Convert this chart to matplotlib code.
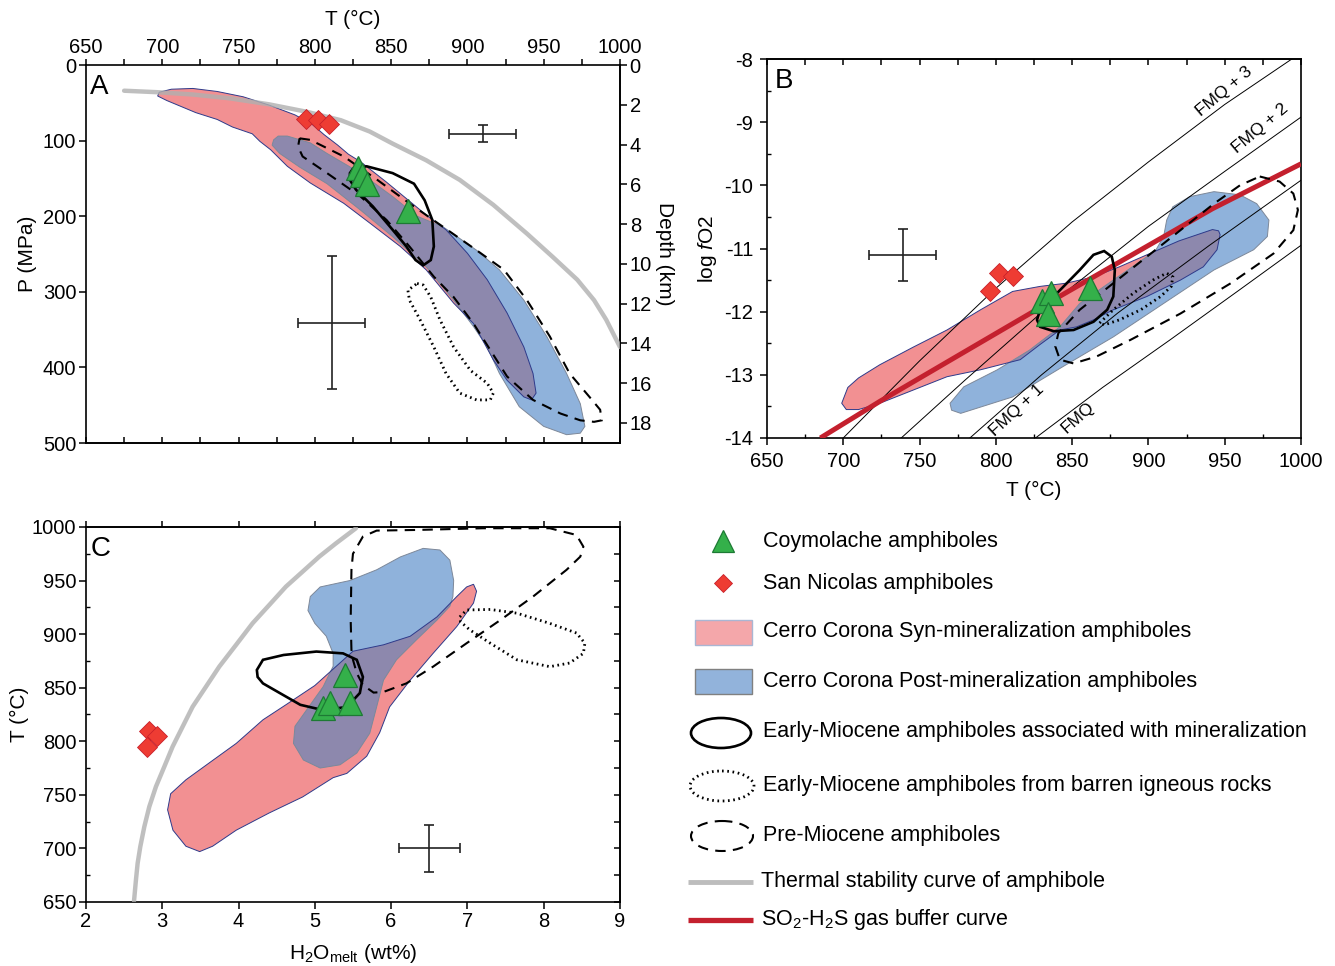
import numpy as np
import matplotlib
matplotlib.use('Agg')
import matplotlib.pyplot as plt
from matplotlib.patches import Ellipse, Rectangle
from matplotlib.ticker import MultipleLocator

plt.rcParams['font.family'] = ['Liberation Sans', 'DejaVu Sans']
plt.rcParams['mathtext.fontset'] = 'custom'
plt.rcParams['mathtext.rm'] = 'Liberation Sans'
plt.rcParams['mathtext.it'] = 'Liberation Sans:italic'
plt.rcParams['axes.unicode_minus'] = False
plt.rcParams['axes.linewidth'] = 1.2

# ---------------- panel A : T - P ----------------
A_syn_T = [698, 706, 720, 736, 753, 770, 787, 798, 806, 815, 822, 830, 847, 862, 874, 886, 900, 913,
           926, 937, 943, 945, 942, 937, 926, 917, 910, 904, 891, 873, 856, 836, 819, 797, 782, 771,
           764, 759, 746, 736, 722, 703, 697]
A_syn_P = [36, 32, 31, 35, 42, 53, 66, 78, 92, 106, 118, 128, 155, 180, 200, 218, 249, 284,
           328, 373, 408, 434, 443, 439, 417, 390, 364, 342, 315, 271, 240, 209, 183, 156, 134, 112,
           101, 91, 82, 72, 63, 47, 41]
A_post_T = [773, 776, 782, 797, 808, 830, 851, 867, 884, 906, 921, 937, 952, 965, 974, 977, 974, 965,
            950, 934, 921, 913, 904, 891, 873, 851, 830, 808, 790, 777, 772]
A_post_P = [99, 94, 94, 103, 117, 143, 174, 200, 214, 245, 271, 311, 359, 408, 448, 478, 487, 489,
            478, 452, 408, 373, 346, 311, 267, 227, 192, 157, 135, 117, 106]
A_min_T = [823, 825, 834, 851, 865, 872, 877, 878, 876, 871, 866, 860, 851, 838, 827, 823]
A_min_P = [143, 137, 134, 143, 157, 179, 205, 240, 258, 265, 258, 240, 218, 187, 165, 152]
A_pre_T = [790, 797, 819, 841, 862, 884, 906, 924, 939, 954, 967, 980, 987, 988, 983, 974, 961, 943,
           926, 915, 904, 891, 878, 862, 847, 830, 808, 792, 789]
A_pre_P = [97, 99, 121, 152, 183, 214, 245, 271, 311, 359, 408, 439, 456, 470, 472, 470, 461, 443,
           412, 377, 342, 307, 280, 240, 205, 174, 143, 121, 108]
A_bar_T = [867, 871, 876, 882, 891, 902, 913, 917, 915, 906, 895, 886, 878, 869, 862, 861]
A_bar_P = [289, 291, 307, 337, 373, 404, 421, 434, 443, 443, 434, 408, 373, 337, 311, 298]
A_stab_T = [675, 697, 720, 744, 770, 795, 817, 836, 851, 873, 895, 917, 939, 956, 972, 983, 991, 1000]
A_stab_P = [34, 36, 39, 44, 52, 62, 73, 88, 104, 126, 152, 185, 223, 254, 284, 311, 337, 373]
A_sn_T = [794, 802, 809]
A_sn_P = [71, 73, 78]
A_coy_T = [828, 831, 834, 861]
A_coy_P = [136, 145, 157, 193]
A_err_T = [910, 811]
A_err_P = [91, 341]
A_err_dT = [22, 22]
A_err_dP = [11, 88]

# ---------------- panel B : T - log fO2 ----------------
B_syn_T = [699, 703, 710, 724, 746, 768, 790, 811, 829, 846, 864, 881, 899, 920, 942, 946, 947, 945,
           936, 921, 899, 877, 864, 853, 842, 829, 816, 790, 768, 746, 724, 710, 702]
B_syn_f = [-13.45, -13.2, -13.05, -12.84, -12.56, -12.29, -11.97, -11.68, -11.60, -11.55, -11.45,
           -11.29, -11.10, -10.88, -10.70, -10.72, -10.78, -11.02, -11.29, -11.50, -11.76, -11.97,
           -12.13, -12.24, -12.29, -12.52, -12.76, -12.92, -13.03, -13.24, -13.45, -13.55, -13.55]
B_post_T = [770, 771, 777, 811, 844, 877, 910, 943, 969, 978, 979, 971, 960, 943, 927, 916, 912, 910,
            905, 899, 877, 855, 842, 822, 801, 779]
B_post_f = [-13.45, -13.56, -13.61, -13.35, -12.87, -12.40, -11.87, -11.34, -11.02, -10.81, -10.55,
            -10.29, -10.15, -10.10, -10.18, -10.34, -10.55, -10.81, -11.02, -11.13, -11.50, -11.87,
            -12.24, -12.61, -12.92, -13.19]
B_min_T = [827, 829, 840, 855, 864, 871, 876, 878, 877, 873, 864, 851, 838, 829]
B_min_f = [-12.13, -11.97, -11.71, -11.34, -11.10, -11.04, -11.13, -11.34, -11.76, -11.97, -12.16,
           -12.29, -12.31, -12.24]
B_pre_T = [973, 986, 995, 998, 995, 982, 954, 921, 888, 866, 851, 842, 839, 841, 855, 877, 899, 921,
           943, 960]
B_pre_f = [-9.86, -9.94, -10.13, -10.39, -10.71, -11.08, -11.55, -12.03, -12.45, -12.71, -12.82,
           -12.76, -12.55, -12.34, -11.97, -11.55, -11.13, -10.71, -10.29, -10.0]
B_bar_T = [868, 877, 890, 903, 912, 916, 915, 908, 895, 881, 871]
B_bar_f = [-12.18, -11.97, -11.71, -11.50, -11.39, -11.45, -11.60, -11.76, -11.97, -12.13, -12.21]
fmq0_T = [826, 870, 914, 960, 1000]
fmq0_f = [-14.0, -13.2, -12.45, -11.65, -10.95]
fmq1_T = [783, 830, 880, 940, 1000]
fmq1_f = [-14.0, -13.0, -12.02, -10.95, -9.92]
fmq2_T = [738, 780, 840, 900, 950, 1000]
fmq2_f = [-14.0, -13.08, -11.8, -10.65, -9.78, -8.92]
fmq3_T = [700, 750, 800, 850, 900, 950, 994]
fmq3_f = [-14.0, -12.78, -11.63, -10.58, -9.63, -8.72, -8.0]
so2_T = [685, 724, 833, 942, 1000]
so2_f = [-14.0, -13.42, -11.88, -10.37, -9.66]
B_sn_T = [796, 802, 811]
B_sn_f = [-11.67, -11.39, -11.44]
B_coy_T = [830, 836, 834, 862]
B_coy_f = [-11.83, -11.71, -12.03, -11.63]
B_err_T, B_err_f, B_err_dT, B_err_df = [739], [-11.1], [22], [0.41]

# ---------------- panel C : H2O - T ----------------
C_syn_H = [3.07, 3.11, 3.31, 3.62, 3.97, 4.32, 4.62, 5.00, 5.25, 5.50, 5.90, 6.25, 6.60, 6.86, 6.99,
           7.08, 7.12, 7.08, 6.86, 6.55, 6.25, 5.98, 5.85, 5.68, 5.42, 5.24, 4.84, 4.40, 3.97, 3.66,
           3.49, 3.31, 3.14]
C_syn_T = [736, 751, 764, 780, 798, 820, 834, 852, 868, 884, 890, 898, 916, 935, 944,
           946.5, 940, 929, 907, 882, 857, 832, 808, 786, 770, 766, 748, 733, 717, 702,
           697, 702, 717]
C_post_H = [4.91, 4.94, 5.07, 5.46, 5.81, 6.12, 6.42, 6.64, 6.77, 6.82, 6.81, 6.77, 6.60, 6.33, 6.07,
            5.90, 5.81, 5.72, 5.55, 5.33, 5.07, 4.85, 4.72, 4.74, 4.89, 5.11, 5.24, 5.24, 5.15, 5.00]
C_post_T = [922, 935, 944, 950, 960, 972, 980, 978.5, 969, 950, 935, 926, 913, 894.5, 876,
            857, 832, 807.5, 789, 778, 775, 782.5, 798, 814, 829, 851, 870, 882, 898, 910]
C_min_H = [4.24, 4.32, 4.59, 5.02, 5.37, 5.55, 5.63, 5.59, 5.42, 5.11, 4.81, 4.54, 4.32, 4.25]
C_min_T = [866.5, 876, 880.5, 883.7, 882, 876, 860, 845, 832, 829, 834, 845, 854, 860]
C_pre_H = [5.48, 5.47, 5.48, 5.50, 5.63, 5.81, 6.33, 7.21, 8.08, 8.43, 8.52, 8.48, 8.30, 7.86, 7.43,
           6.99, 6.55, 6.20, 5.90, 5.77, 5.63, 5.55, 5.50]
C_pre_T = [885, 913, 960, 975, 991, 996.6, 997.2, 998.8, 998.8, 992.5, 981.6, 972.3, 960, 935, 913,
           891.5, 869.6, 854, 846, 845.4, 852.5, 863.5, 876]
C_bar_H = [6.90, 6.99, 7.30, 7.65, 8.08, 8.43, 8.54, 8.52, 8.34, 8.08, 7.65, 7.30, 7.03, 6.91]
C_bar_T = [916, 922.5, 923, 919.5, 910, 901, 891.5, 882, 873, 869.6, 876, 891.5, 904, 911.6]
C_stab_H = [2.63, 2.655, 2.677, 2.712, 2.765, 2.83, 2.917, 3.027, 3.136, 3.267, 3.398, 3.573, 3.747,
            3.966, 4.184, 4.403, 4.621, 4.84, 5.058, 5.277, 5.539]
C_stab_T = [651, 670.5, 686, 701.6, 720.3, 738.9, 757.6, 776.3, 795, 813.6, 832.2, 850.9, 869.6,
            889.8, 910.1, 927.2, 944.3, 958.3, 972.3, 984.7, 998.8]
C_sn_H = [2.83, 2.93, 2.80]
C_sn_T = [810, 805, 795]
C_coy_H = [5.39, 5.11, 5.20, 5.46]
C_coy_T = [862, 831, 836, 835.5]
C_err_H, C_err_T, C_err_dH, C_err_dT = [6.5], [700], [0.4], [22]

# ---------------- styles ----------------
PINK = '#F29092'
BLUE = '#8FB2DB'
PURPLE = '#8D88AD'
PINK_EDGE = '#2E3A8A'
BLUE_EDGE = '#7D8899'
GRAY = '#B0B0B0'
RED_LINE = '#C4202E'
DIA_FC, DIA_EC = '#EE3C33', '#C8202A'
TRI_FC, TRI_EC = '#34B04A', '#1D7A34'
FS = 14.5
DOTS = (0, (0.6, 1.3))
DASH = (0, (5, 3.5))


def fields(ax, sx, sy, px, py):
    ax.fill(sx, sy, fc=PINK, ec='none', zorder=1)
    blue = ax.fill(px, py, fc=BLUE, ec='none', zorder=1.1)[0]
    ov = ax.fill(sx, sy, fc=PURPLE, ec='none', zorder=1.2)[0]
    ov.set_clip_path(blue)
    ax.fill(px, py, fc='none', ec=BLUE_EDGE, lw=0.7, zorder=1.3)
    ax.fill(sx, sy, fc='none', ec=PINK_EDGE, lw=0.7, zorder=1.4)


def contours(ax, mx, my, bx, by, ex, ey):
    ax.fill(mx, my, fc='none', ec='black', lw=1.9, zorder=4)
    ax.fill(bx, by, fc='none', ec='black', lw=2.0, ls=DOTS, zorder=4)
    ax.fill(ex, ey, fc='none', ec='black', lw=1.5, ls=DASH, zorder=4)


def points(ax, sx, sy, cx, cy):
    ax.plot(sx, sy, 'D', ms=10, mfc=DIA_FC, mec=DIA_EC, mew=0.6, zorder=6)
    ax.plot(cx, cy, '^', ms=17, mfc=TRI_FC, mec=TRI_EC, mew=0.9, zorder=6)


def errs(ax, x, y, dx, dy):
    ax.errorbar(x, y, xerr=dx, yerr=dy, fmt='none', ecolor='#222222', elinewidth=1.2,
                capsize=3.5, capthick=1.2, zorder=5)


fig = plt.figure(figsize=(13.35, 9.66), dpi=100)

# ---------- A ----------
axA = fig.add_axes([0.0644, 0.5414, 0.400, 0.3913])
fields(axA, A_syn_T, A_syn_P, A_post_T, A_post_P)
contours(axA, A_min_T, A_min_P, A_bar_T, A_bar_P, A_pre_T, A_pre_P)
axA.plot(A_stab_T, A_stab_P, color=GRAY, lw=3.2, alpha=0.8, solid_capstyle='round',
         solid_joinstyle='round', zorder=3)
points(axA, A_sn_T, A_sn_P, A_coy_T, A_coy_P)
errs(axA, A_err_T, A_err_P, A_err_dT, A_err_dP)
axA.set_xlim(650, 1000)
axA.set_ylim(500, 0)
axA.xaxis.tick_top()
axA.xaxis.set_label_position('top')
axA.set_xticks(np.arange(650, 1001, 50))
axA.xaxis.set_minor_locator(MultipleLocator(25))
axA.tick_params(axis='x', which='both', direction='out', length=4, width=1.1,
                labelsize=FS, pad=2)
axA.set_yticks(np.arange(0, 501, 100))
axA.tick_params(axis='y', direction='out', length=5, width=1.1, labelsize=FS, pad=2)
botA = axA.secondary_xaxis('bottom')
botA.set_xticks(np.arange(650, 1001, 25))
botA.tick_params(direction='in', length=4, width=1.1, labelbottom=False)
depth = axA.secondary_yaxis('right', functions=(lambda p: p / 26.3, lambda d: d * 26.3))
depth.set_yticks(np.arange(0, 19, 2))
depth.tick_params(direction='out', length=5, width=1.1, labelsize=FS, pad=2)
depth.set_ylabel('Depth (km)', fontsize=FS + 0.5, rotation=270, labelpad=16)
axA.set_xlabel('T (°C)', fontsize=FS + 0.5, labelpad=9)
axA.set_ylabel('P (MPa)', fontsize=FS + 0.5, labelpad=4)
axA.text(0.008, 0.975, 'A', transform=axA.transAxes, fontsize=20, va='top', ha='left')

# ---------- B ----------
axB = fig.add_axes([0.5745, 0.5466, 0.400, 0.3923])
fields(axB, B_syn_T, B_syn_f, B_post_T, B_post_f)
for xs, ys in [(fmq0_T, fmq0_f), (fmq1_T, fmq1_f), (fmq2_T, fmq2_f), (fmq3_T, fmq3_f)]:
    axB.plot(xs, ys, color='black', lw=0.7, zorder=2)
axB.plot(so2_T, so2_f, color=RED_LINE, lw=3.6, solid_capstyle='butt', zorder=3)
contours(axB, B_min_T, B_min_f, B_bar_T, B_bar_f, B_pre_T, B_pre_f)
points(axB, B_sn_T, B_sn_f, B_coy_T, B_coy_f)
errs(axB, B_err_T, B_err_f, B_err_dT, B_err_df)
axB.text(950, -8.52, 'FMQ + 3', fontsize=12.5, rotation=40, ha='center', va='center')
axB.text(973, -9.1, 'FMQ + 2', fontsize=12.5, rotation=40, ha='center', va='center')
axB.text(814, -13.56, 'FMQ + 1', fontsize=12.5, rotation=43, ha='center', va='center')
axB.text(854, -13.68, 'FMQ', fontsize=12.5, rotation=42, ha='center', va='center')
axB.set_xlim(650, 1000)
axB.set_ylim(-14, -8)
axB.set_xticks(np.arange(650, 1001, 50))
axB.xaxis.set_minor_locator(MultipleLocator(25))
axB.set_yticks(np.arange(-14, -7.9, 1))
axB.yaxis.set_minor_locator(MultipleLocator(0.5))
axB.tick_params(which='major', direction='out', length=5, width=1.1, labelsize=FS, pad=5)
axB.tick_params(which='minor', direction='in', length=3, width=1.0)
topB = axB.secondary_xaxis('top')
topB.set_xticks(np.arange(650, 1001, 25))
topB.tick_params(direction='in', length=4, width=1.1, labeltop=False)
axB.set_xlabel('T (°C)', fontsize=FS + 0.5, labelpad=7)
axB.set_ylabel(r'log $\mathit{f}$O2', fontsize=FS + 0.5, labelpad=4)
axB.text(0.015, 0.975, 'B', transform=axB.transAxes, fontsize=20, va='top', ha='left')

# ---------- C ----------
axC = fig.add_axes([0.0644, 0.0663, 0.400, 0.3882])
fields(axC, C_syn_H, C_syn_T, C_post_H, C_post_T)
contours(axC, C_min_H, C_min_T, C_bar_H, C_bar_T, C_pre_H, C_pre_T)
axC.plot(C_stab_H, C_stab_T, color=GRAY, lw=3.2, alpha=0.8, solid_capstyle='round',
         solid_joinstyle='round', zorder=3)
points(axC, C_sn_H, C_sn_T, C_coy_H, C_coy_T)
errs(axC, C_err_H, C_err_T, C_err_dH, C_err_dT)
axC.set_xlim(2, 9)
axC.set_ylim(650, 1000)
axC.set_xticks(np.arange(2, 10, 1))
axC.set_yticks(np.arange(650, 1001, 50))
axC.yaxis.set_minor_locator(MultipleLocator(25))
axC.tick_params(which='major', direction='out', length=5, width=1.1, labelsize=FS, pad=2)
axC.tick_params(which='minor', direction='in', length=3, width=1.0)
topC = axC.secondary_xaxis('top')
topC.set_xticks(np.arange(2, 10, 1))
topC.tick_params(direction='out', length=4, width=1.1, labeltop=False)
rightC = axC.secondary_yaxis('right')
rightC.set_yticks(np.arange(650, 1001, 25))
rightC.tick_params(direction='in', length=4, width=1.1, labelright=False)
axC.set_xlabel(r'H$_2$O$_{\mathrm{melt}}$ (wt%)', fontsize=FS + 0.5, labelpad=8)
axC.set_ylabel('T (°C)', fontsize=FS + 0.5, labelpad=2)
axC.text(0.008, 0.975, 'C', transform=axC.transAxes, fontsize=20, va='top', ha='left')

# ---------- legend (drawn in figure pixels) ----------
lg = fig.add_axes([0, 0, 1, 1])
lg.set_xlim(0, 1335)
lg.set_ylim(966, 0)
lg.axis('off')
lg.plot([723], [541], '^', ms=16, mfc=TRI_FC, mec=TRI_EC, mew=0.9)
lg.plot([723], [583], 'D', ms=9, mfc=DIA_FC, mec=DIA_EC, mew=0.6)
lg.add_patch(Rectangle((695, 620), 57, 25, fc='#F4A7AA', ec='#A9B6D3', lw=1))
lg.add_patch(Rectangle((695, 669), 57, 25, fc='#92B3DB', ec='#808080', lw=1))
lg.add_patch(Ellipse((721, 733), 60, 30, fc='none', ec='black', lw=1.9))
lg.add_patch(Ellipse((722, 786), 64, 30, fc='none', ec='black', lw=2.0, ls=DOTS))
lg.add_patch(Ellipse((722, 836), 62, 30, fc='none', ec='black', lw=1.5, ls=DASH))
lg.plot([688, 753], [882, 882], color='#BDBDBD', lw=3.5, solid_capstyle='butt')
lg.plot([688, 753], [920, 920], color=RED_LINE, lw=3.8, solid_capstyle='butt')
labels = [(763, 541, 'Coymolache amphiboles'),
          (763, 583, 'San Nicolas amphiboles'),
          (763, 632, 'Cerro Corona Syn-mineralization amphiboles'),
          (763, 681, 'Cerro Corona Post-mineralization amphiboles'),
          (763, 731, 'Early-Miocene amphiboles associated with mineralization'),
          (763, 786, 'Early-Miocene amphiboles from barren igneous rocks'),
          (763, 836, 'Pre-Miocene amphiboles'),
          (761, 882, 'Thermal stability curve of amphibole'),
          (761, 920, r'SO$_2$-H$_2$S gas buffer curve')]
for x, y, s in labels:
    lg.text(x, y, s, fontsize=15.5, va='center', ha='left')

fig.savefig('out.png', dpi=100)
